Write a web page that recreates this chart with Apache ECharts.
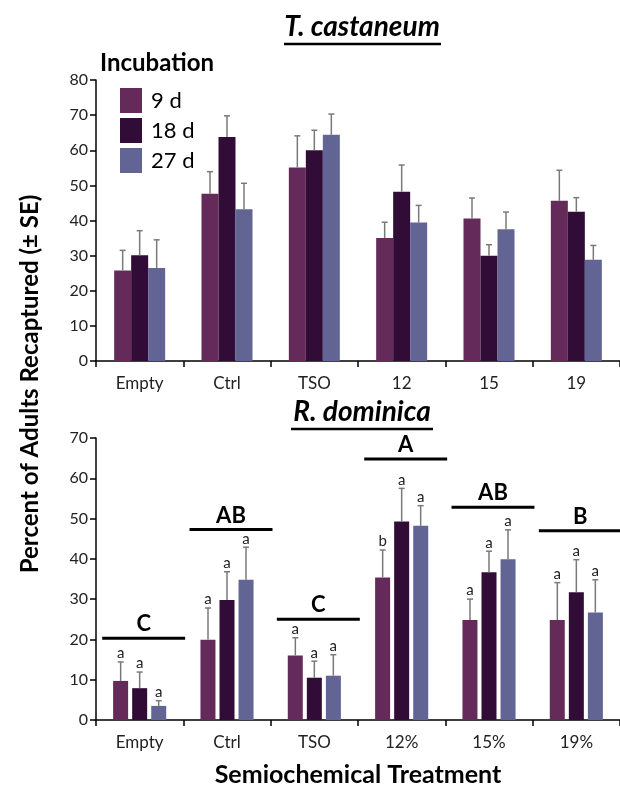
<!DOCTYPE html>
<html>
<head>
<meta charset="utf-8">
<script src="https://cdn.jsdelivr.net/npm/echarts@6/dist/echarts.min.js"></script>
<style>html,body{margin:0;padding:0;background:#fff}#c{width:620px;height:794px}</style>
</head>
<body>
<div id="c"></div>
<script>
// ---- data ----
var categoriesTop = ['Empty', 'Ctrl', 'TSO', '12', '15', '19'];
var categoriesBottom = ['Empty', 'Ctrl', 'TSO', '12%', '15%', '19%'];
var seriesNames = ['9 d', '18 d', '27 d'];
var yTicksTop = [0, 10, 20, 30, 40, 50, 60, 70, 80];
var yTicksBottom = [0, 10, 20, 30, 40, 50, 60, 70];

// T. castaneum means and SE
var tc9 = [25.8, 47.6, 55.1, 35.0, 40.6, 45.6];
var tc9SE = [5.7, 6.3, 9.0, 4.5, 5.8, 8.7];
var tc18 = [30.1, 63.8, 60.0, 48.2, 30.0, 42.5];
var tc18SE = [7.0, 6.0, 5.7, 7.6, 3.1, 4.0];
var tc27 = [26.5, 43.2, 64.4, 39.4, 37.5, 28.8];
var tc27SE = [8.0, 7.4, 5.9, 4.9, 4.9, 4.1];

// R. dominica means and SE
var rd9 = [9.7, 19.9, 16.0, 35.4, 24.8, 24.8];
var rd9SE = [4.7, 7.9, 4.4, 6.8, 5.2, 9.3];
var rd18 = [7.9, 29.8, 10.5, 49.3, 36.7, 31.7];
var rd18SE = [4.0, 7.0, 4.1, 8.2, 5.2, 8.1];
var rd27 = [3.5, 34.8, 11.0, 48.2, 39.9, 26.7];
var rd27SE = [1.3, 8.1, 5.2, 5.0, 7.3, 8.1];

// within-treatment letters (R. dominica)
var rd9Letters = ['a', 'a', 'a', 'b', 'a', 'a'];
var rd18Letters = ['a', 'a', 'a', 'a', 'a', 'a'];
var rd27Letters = ['a', 'a', 'a', 'a', 'a', 'a'];
// between-treatment group letters and bracket level
var groupLetters = ['C', 'AB', 'C', 'A', 'AB', 'B'];
var groupLevels = [20.3, 47.3, 25.0, 64.8, 52.8, 47.0];

// ---- styles ----
var colors = ['#642b5a', '#300c37', '#626494'];
var FONT = 'Lato, "Open Sans", sans-serif';
var chart = echarts.init(document.getElementById('c'));

function errSeries(name, means, se, letters, xi, offset) {
  var data = means.map(function (m, i) { return [i, m, m + se[i], letters ? letters[i] : '']; });
  return {
    type: 'custom', name: name + ' err', xAxisIndex: xi, yAxisIndex: xi, z: 5,
    encode: { x: 0, y: [1, 2] }, silent: true,
    data: data,
    renderItem: function (params, api) {
      var p0 = api.coord([api.value(0), api.value(1)]);
      var p1 = api.coord([api.value(0), api.value(2)]);
      var x = p0[0] + offset;
      var children = [
        { type: 'line', shape: { x1: x, y1: p0[1], x2: x, y2: p1[1] }, style: { stroke: '#7a7a7a', lineWidth: 1.5 } },
        { type: 'line', shape: { x1: x - 3, y1: p1[1], x2: x + 3, y2: p1[1] }, style: { stroke: '#7a7a7a', lineWidth: 1.5 } }
      ];
      var lt = api.value(3);
      if (lt) {
        children.push({ type: 'text', style: { x: x, y: p1[1] - 1, text: lt, align: 'center', verticalAlign: 'bottom', font: '15px ' + FONT, fill: '#222' } });
      }
      return { type: 'group', children: children };
    }
  };
}

function barSeries(name, vals, xi, color, width, gap) {
  return {
    type: 'bar', name: name, xAxisIndex: xi, yAxisIndex: xi, data: vals,
    barWidth: width, barGap: gap, itemStyle: { color: color }, z: 3
  };
}

var series = [
  barSeries('9 d', tc9, 0, colors[0], 17, '0%'),
  barSeries('18 d', tc18, 0, colors[1], 17, '0%'),
  barSeries('27 d', tc27, 0, colors[2], 17, '0%'),
  errSeries('9 d', tc9, tc9SE, null, 0, -17),
  errSeries('18 d', tc18, tc18SE, null, 0, 0),
  errSeries('27 d', tc27, tc27SE, null, 0, 17),
  barSeries('9 d', rd9, 1, colors[0], 15, '27%'),
  barSeries('18 d', rd18, 1, colors[1], 15, '27%'),
  barSeries('27 d', rd27, 1, colors[2], 15, '27%'),
  errSeries('9 d', rd9, rd9SE, rd9Letters, 1, -19),
  errSeries('18 d', rd18, rd18SE, rd18Letters, 1, 0),
  errSeries('27 d', rd27, rd27SE, rd27Letters, 1, 19),
  {
    type: 'custom', name: 'groups', xAxisIndex: 1, yAxisIndex: 1, silent: true, z: 6,
    encode: { x: 0, y: 1 },
    data: groupLevels.map(function (v, i) { return [i, v, groupLetters[i]]; }),
    renderItem: function (params, api) {
      var p = api.coord([api.value(0), api.value(1)]);
      var band = api.size([1, 0])[0];
      var cx = p[0] + 4;
      var half = band * 0.475;
      return {
        type: 'group', children: [
          { type: 'line', shape: { x1: cx - half, y1: p[1], x2: cx + half, y2: p[1] }, style: { stroke: '#000', lineWidth: 3 } },
          { type: 'text', style: { x: cx, y: p[1] - 3, text: api.value(2), align: 'center', verticalAlign: 'bottom', font: 'bold 22px ' + FONT, fill: '#000' } }
        ]
      };
    }
  }
];

function yAxis(gi, ticks) {
  return {
    type: 'value', gridIndex: gi, min: ticks[0], max: ticks[ticks.length - 1], interval: 10,
    splitLine: { show: false },
    axisLine: { show: true, lineStyle: { color: '#000', width: 1.5 } },
    axisTick: { show: true, length: 6, lineStyle: { color: '#000', width: 1.5 } },
    axisLabel: { fontSize: 16, color: '#222', fontFamily: FONT, margin: 8 }
  };
}
function xAxis(gi, cats, extra) {
  var a = {
    type: 'category', gridIndex: gi, data: cats,
    axisLine: { show: true, lineStyle: { color: '#000', width: 1.5 } },
    axisTick: { show: true, length: 6, alignWithLabel: false, lineStyle: { color: '#000', width: 1.5 } },
    axisLabel: { fontSize: 17, color: '#222', fontFamily: FONT, margin: 14 }
  };
  for (var k in extra) a[k] = extra[k];
  return a;
}

var option = {
  animation: false,
  backgroundColor: '#fff',
  grid: [
    { left: 96, right: -8, top: 80, height: 281 },
    { left: 96, right: -8, top: 438, height: 282 }
  ],
  xAxis: [
    xAxis(0, categoriesTop, {}),
    xAxis(1, categoriesBottom, {
      name: 'Semiochemical Treatment', nameLocation: 'middle', nameGap: 42,
      nameTextStyle: { fontSize: 25, fontWeight: 'bold', color: '#000', fontFamily: FONT }
    })
  ],
  yAxis: [yAxis(0, yTicksTop), yAxis(1, yTicksBottom)],
  legend: {
    data: seriesNames, orient: 'vertical', left: 115, top: 83,
    itemWidth: 22, itemHeight: 25, itemGap: 5,
    textStyle: { fontSize: 22, color: '#000', fontFamily: FONT, padding: [0, 0, 0, 4] },
    icon: 'rect'
  },
  graphic: [
    { type: 'text', left: 100, top: 51, style: { text: 'Incubation', font: 'bold 24px ' + FONT, fill: '#000' } },
    { type: 'text', x: 362, y: 41, style: { text: 'T. castaneum', font: 'italic bold 28px ' + FONT, fill: '#000', align: 'center', verticalAlign: 'bottom' } },
    { type: 'line', shape: { x1: 284, y1: 44, x2: 441, y2: 44 }, style: { stroke: '#000', lineWidth: 2.5 } },
    { type: 'text', x: 362, y: 426, style: { text: 'R. dominica', font: 'italic bold 28px ' + FONT, fill: '#000', align: 'center', verticalAlign: 'bottom' } },
    { type: 'line', shape: { x1: 291, y1: 429, x2: 433, y2: 429 }, style: { stroke: '#000', lineWidth: 2.5 } },
    { type: 'text', x: 30, y: 384, rotation: Math.PI / 2, style: { text: 'Percent of Adults Recaptured (\u00b1 SE)', font: 'bold 24px ' + FONT, fill: '#000', align: 'center', verticalAlign: 'middle' } }
  ],
  series: series
};
chart.setOption(option);
</script>
</body>
</html>
